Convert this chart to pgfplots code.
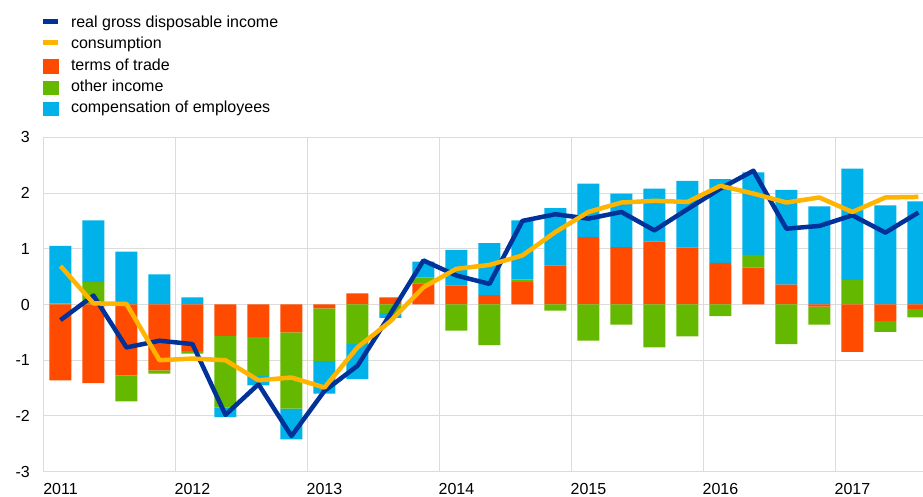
\documentclass[border=0pt]{standalone}
\usepackage{pgfplots}
\pgfplotsset{compat=1.18}
\usepackage{pgfplotstable}
\usepackage{fontspec}
\setmainfont{Liberation Sans}
\definecolor{rgdi}{HTML}{003299}
\definecolor{cons}{HTML}{FFB400}
\definecolor{tot}{HTML}{FF4B00}
\definecolor{oth}{HTML}{65B800}
\definecolor{comp}{HTML}{00B1EA}
\definecolor{gridc}{HTML}{DCDCDC}

% x: quarter position; o: terms of trade; g: other income; b: compensation of employees
% r: real gross disposable income; c: consumption
\pgfplotstableread{
x    o      g      b      r      c
0.5  -1.36  0.02   1.03  -0.28   0.69
1.5  -1.41  0.40   1.11   0.16   0.02
2.5  -1.27 -0.47   0.95  -0.77   0.01
3.5  -1.18 -0.06   0.54  -0.65  -1.00
4.5  -0.83 -0.05   0.13  -0.71  -0.97
5.5  -0.565 -1.285 -0.17 -1.98  -1.00
6.5  -0.58 -0.70  -0.17  -1.43  -1.36
7.5  -0.50 -1.37  -0.55  -2.36  -1.31
8.5  -0.07 -0.94  -0.59  -1.55  -1.49
9.5   0.20 -0.71  -0.63  -1.10  -0.77
10.5  0.13 -0.15  -0.09  -0.17  -0.30
11.5  0.38  0.10   0.29   0.79   0.31
12.5  0.34 -0.47   0.64   0.52   0.64
13.5  0.17 -0.73   0.93   0.37   0.71
14.5  0.40  0.05   1.06   1.50   0.88
15.5  0.70 -0.11   1.03   1.62   1.30
16.5  1.21 -0.65   0.96   1.54   1.66
17.5  1.03 -0.36   0.96   1.66   1.83
18.5  1.13 -0.77   0.95   1.33   1.86
19.5  1.02 -0.57   1.20   1.71   1.84
20.5  0.745 -0.21  1.505  2.08   2.13
21.5  0.66  0.23   1.48   2.40   1.99
22.5  0.355 -0.71  1.70   1.36   1.83
23.5 -0.04 -0.32   1.76   1.41   1.92
24.5 -0.85  0.44   2.00   1.60   1.66
25.5 -0.30 -0.19   1.78   1.29   1.92
26.5 -0.08 -0.15   1.85   1.65   1.93
}\data

\pgfplotsset{common/.style={scale only axis, width=879pt, height=334.4pt,
  xmin=0, xmax=26.64, ymin=-3, ymax=3, at={(44pt,25.3pt)}, anchor=south west}}

\begin{document}
\begin{tikzpicture}
\useasboundingbox (0,0) rectangle (923pt,497pt);
% positive contributions
\begin{axis}[common, ybar stacked, bar width=22pt,
  xtick={0,4,8,12,16,20,24},
  xticklabels={2011,2012,2013,2014,2015,2016,2017},
  ytick={-3,-2,-1,0,1,2,3},
  yticklabels={-3,-2,-1,0,1,2,3},
  grid=major, major grid style={draw=gridc, line width=1pt},
  axis line style={draw=none}, major tick length=0pt, tick style={draw=none},
  ticklabel style={font=\fontsize{16}{19}\selectfont},
  xticklabel style={anchor=base, inner sep=0pt, xshift=16.5pt, yshift=-23pt},
  yticklabel style={anchor=east, inner sep=0pt, xshift=-14pt}]
\addplot[fill=tot, draw=none] table[x=x, y expr={max(\thisrow{o},0)}] {\data};
\addplot[fill=oth, draw=none] table[x=x, y expr={max(\thisrow{g},0)}] {\data};
\addplot[fill=comp, draw=none] table[x=x, y expr={max(\thisrow{b},0)}] {\data};
\end{axis}
% negative contributions
\begin{axis}[common, hide axis, ybar stacked, bar width=22pt]
\addplot[fill=tot, draw=none] table[x=x, y expr={min(\thisrow{o},0)}] {\data};
\addplot[fill=oth, draw=none] table[x=x, y expr={min(\thisrow{g},0)}] {\data};
\addplot[fill=comp, draw=none] table[x=x, y expr={min(\thisrow{b},0)}] {\data};
\end{axis}
% lines and legend
\begin{axis}[common, hide axis,
  legend cell align=left,
  legend style={at={(0,1)}, anchor=north west, xshift=-3pt, yshift=121.3pt,
    draw=none, fill=none, inner sep=0pt, outer sep=0pt,
    row sep=6.3pt, column sep=10pt,
    nodes={inner sep=0pt, text height=11.5pt, text depth=3.5pt},
    font=\fontsize{16}{19}\selectfont}]
\addplot[rgdi, line width=4.5pt, line join=round,
  legend image code/.code={\draw[rgdi, line width=5pt] (0pt,1.8pt) -- (15pt,1.8pt);}]
  table[x=x, y=r] {\data};
\addlegendentry{real gross disposable income}
\addplot[cons, line width=4.5pt, line join=round,
  legend image code/.code={\draw[cons, line width=5pt] (0pt,1.8pt) -- (15pt,1.8pt);}]
  table[x=x, y=c] {\data};
\addlegendentry{consumption}
\addlegendimage{legend image code/.code={\fill[tot] (0pt,-6.7pt) rectangle (15pt,6.6pt);}}
\addlegendentry{terms of trade}
\addlegendimage{legend image code/.code={\fill[oth] (0pt,-6.7pt) rectangle (15pt,6.6pt);}}
\addlegendentry{other income}
\addlegendimage{legend image code/.code={\fill[comp] (0pt,-6.7pt) rectangle (15pt,6.6pt);}}
\addlegendentry{compensation of employees}
\end{axis}
\end{tikzpicture}
\end{document}
